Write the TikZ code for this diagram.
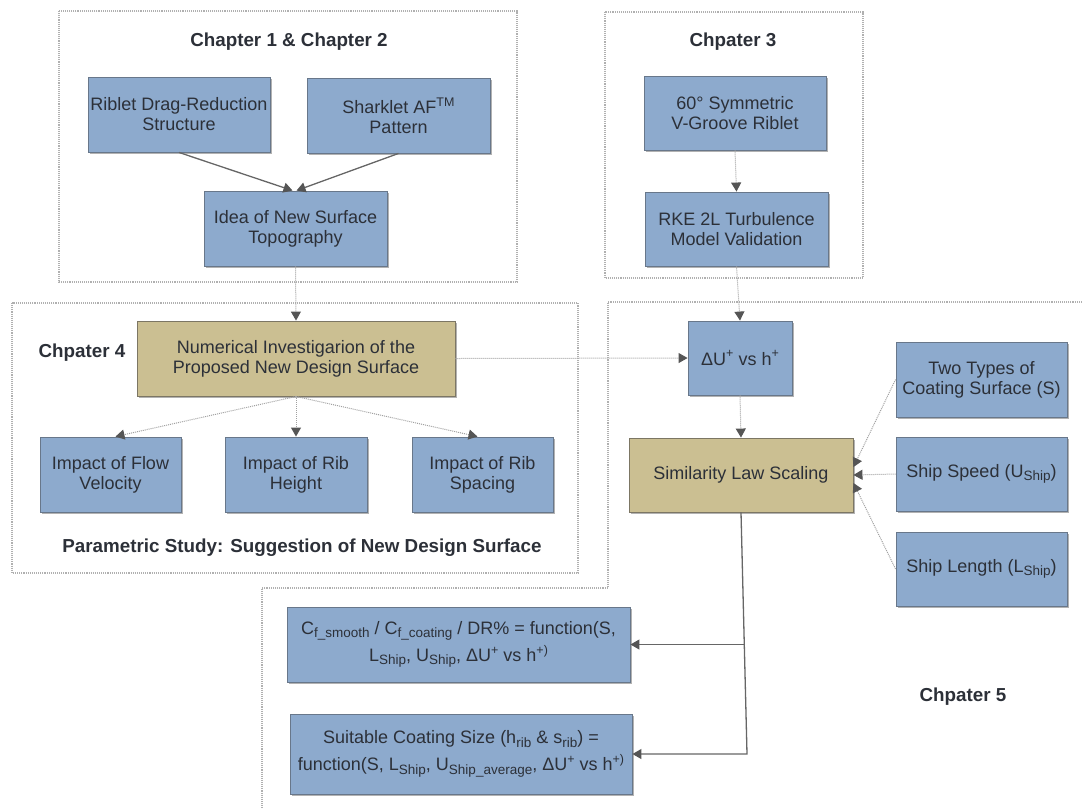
\documentclass[tikz,border=0pt]{standalone}
\usepackage{fontspec}
\setmainfont{Liberation Sans}
\usetikzlibrary{arrows.meta,shadows}
\definecolor{boxblue}{HTML}{8DAACD}
\definecolor{boxedge}{HTML}{68778A}
\definecolor{boxtan}{HTML}{CBBF92}
\definecolor{tanedge}{HTML}{7C7664}
\definecolor{txt}{HTML}{2C3038}
\definecolor{solidline}{HTML}{666666}
\definecolor{dotline}{HTML}{A0A0A0}
\definecolor{tipcol}{HTML}{555555}
\definecolor{frame}{HTML}{B0B0B0}
\newcommand\sbs[1]{\raisebox{-0.35ex}{\fontsize{13.5}{14}\selectfont #1}}
\newcommand\sps[1]{\raisebox{0.75ex}{\fontsize{12.5}{14}\selectfont #1}}
\begin{document}
\begin{tikzpicture}[x=1pt,y=-1pt,
  bx/.style={draw=boxedge, line width=0.9pt, fill=boxblue, text=txt, align=center,
    inner sep=2pt, font=\fontsize{18}{20}\selectfont,
    drop shadow={shadow xshift=1.5pt,shadow yshift=-1.5pt,opacity=0.3,fill=black}},
  tb/.style={bx, draw=tanedge, fill=boxtan},
  wide/.style={bx, font=\fontsize{18}{27}\selectfont},
  ttl/.style={text=txt, font=\bfseries\fontsize{18.8}{21}\selectfont},
  frm/.style={draw=frame, line width=1.1pt, densely dotted},
  sarr/.style={draw=solidline, line width=1.3pt, -{Triangle[length=9pt,width=10pt,color=tipcol]}},
  darr/.style={draw=dotline, line width=1pt, densely dotted, -{Triangle[length=9pt,width=10pt,color=tipcol]}}
]
\useasboundingbox (0,0) rectangle (1083,807);

% frames
\draw[frm] (59,11) rectangle (517,282);
\draw[frm] (605,12) rectangle (863,278);
\draw[frm] (12,303) rectangle (578,573);
\draw[frm] (1084,302) -- (608,302) -- (608,588) -- (262,588) -- (262,808);

% titles
\node[ttl] (t12) at (289,42) {Chapter 1 \& Chapter 2};
\node[ttl] (t3) at (733,42) {Chpater 3};
\node[ttl] (t4) at (82,353) {Chpater 4};
\node[ttl] (tps) at (302,548) {Parametric Study: Suggestion of New Design Surface};
\node[ttl] (t5) at (963,697) {Chpater 5};

% chapter 1 & 2
\node[bx, minimum width=182pt, minimum height=75pt] (rib) at (179,114.5) {Riblet Drag-Reduction\\Structure};
\node[bx, minimum width=183pt, minimum height=75pt] (shark) at (398.5,115.5) {Sharklet AF\sps{TM}\\Pattern};
\node[bx, minimum width=183pt, minimum height=75pt] (idea) at (295.5,228.5) {Idea of New Surface\\Topography};

% chapter 3
\node[bx, minimum width=182pt, minimum height=74pt] (v60) at (735,113) {60° Symmetric\\V-Groove Riblet};
\node[bx, minimum width=183pt, minimum height=74pt] (rke) at (736.5,229) {RKE 2L Turbulence\\Model Validation};

% chapter 4
\node[tb, minimum width=318pt, minimum height=75pt] (num) at (296,358.5) {Numerical Investigarion of the\\Proposed New Design Surface};
\node[bx, minimum width=141pt, minimum height=75pt] (flow) at (110.5,474.5) {Impact of Flow\\Velocity};
\node[bx, minimum width=142pt, minimum height=75pt] (hgt) at (296,474.5) {Impact of Rib\\Height};
\node[bx, minimum width=141pt, minimum height=75pt] (spc) at (482.5,474.5) {Impact of Rib\\Spacing};

% chapter 5
\node[bx, minimum width=104pt, minimum height=74pt] (du) at (740,358) {ΔU\sps{+} vs h\sps{+}};
\node[tb, minimum width=224pt, minimum height=74pt] (sim) at (741,475) {Similarity Law Scaling};
\node[bx, minimum width=171pt, minimum height=75pt] (two) at (981.5,379.5) {Two Types of\\Coating Surface (S)};
\node[bx, minimum width=171pt, minimum height=74pt] (spd) at (981.5,474) {Ship Speed (U\sbs{Ship})};
\node[bx, minimum width=171pt, minimum height=74pt] (len) at (981.5,569) {Ship Length (L\sbs{Ship})};
\node[wide, minimum width=343pt, minimum height=75pt] (cf) at (458.5,644.5) {C\sbs{f\_smooth} / C\sbs{f\_coating} / DR\% = function(S,\\L\sbs{Ship}, U\sbs{Ship}, ΔU\sps{+} vs h\sps{+)}};
\node[wide, minimum width=342pt, minimum height=80pt] (sui) at (461,754) {Suitable Coating Size (h\sbs{rib} \& s\sbs{rib}) =\\function(S, L\sbs{Ship}, U\sbs{Ship\_average}, ΔU\sps{+} vs h\sps{+)}};

% connectors
\draw[sarr] (rib.south) -- ([xshift=-3pt]idea.north);
\draw[sarr] (shark.south) -- ([xshift=1pt]idea.north);
\draw[darr] (idea.south) -- (num.north);
\draw[darr] (v60.south) -- (rke.north);
\draw[darr] (rke.south) -- (du.north);
\draw[darr] (num.east) -- (du.west);
\draw[darr] (num.south) -- ([xshift=5pt]flow.north);
\draw[darr] (num.south) -- (hgt.north);
\draw[darr] (num.south) -- ([xshift=-5pt]spc.north);
\draw[darr] (du.south) -- (sim.north);
\draw[darr] (two.west) -- ([yshift=8pt]sim.east);
\draw[darr] (spd.west) -- (sim.east);
\draw[darr] (len.west) -- ([yshift=-8pt]sim.east);
\coordinate (br) at (745,644.5);
\coordinate (cn) at (747,754);
\draw[sarr] (sim.south) -- (cn) -- (sui.east);
\draw[sarr] (br) -- (cf.east);
\end{tikzpicture}
\end{document}
